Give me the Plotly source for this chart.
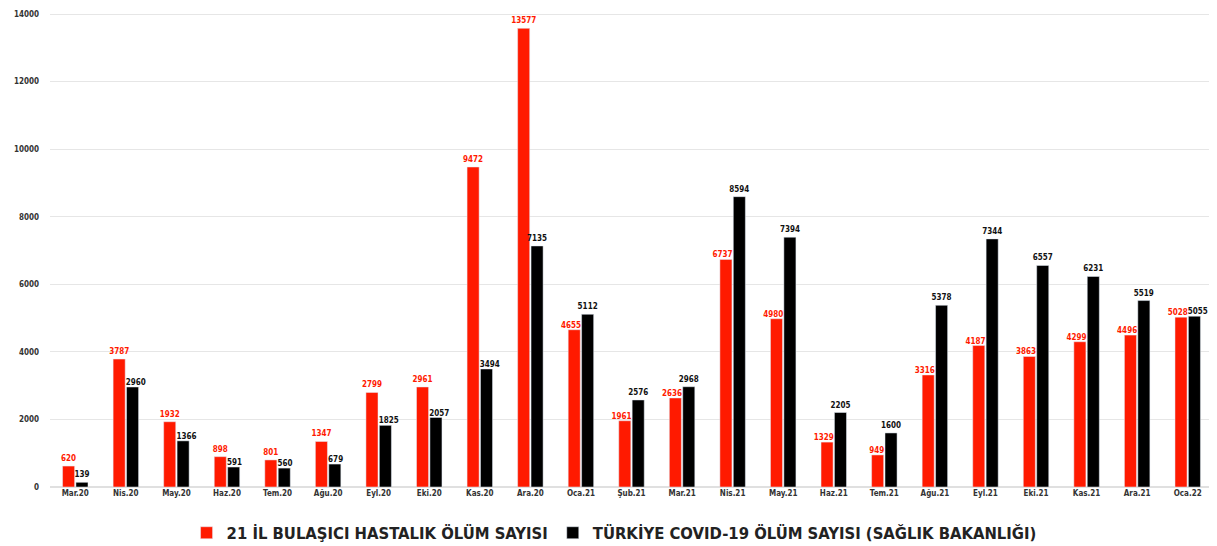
import plotly.graph_objects as go

months = ["Mar.20", "Nis.20", "May.20", "Haz.20", "Tem.20", "Ağu.20", "Eyl.20", "Eki.20",
          "Kas.20", "Ara.20", "Oca.21", "Şub.21", "Mar.21", "Nis.21", "May.21", "Haz.21",
          "Tem.21", "Ağu.21", "Eyl.21", "Eki.21", "Kas.21", "Ara.21", "Oca.22"]
il21_deaths = [620, 3787, 1932, 898, 801, 1347, 2799, 2961, 9472, 13577, 4655, 1961, 2636,
               6737, 4980, 1329, 949, 3316, 4187, 3863, 4299, 4496, 5028]
turkiye_deaths = [139, 2960, 1366, 591, 560, 679, 1825, 2057, 3494, 7135, 5112, 2576, 2968,
                  8594, 7394, 2205, 1600, 5378, 7344, 6557, 6231, 5519, 5055]
yticks = [0, 2000, 4000, 6000, 8000, 10000, 12000, 14000]

RED = "#ff1a00"
BLACK = "#000000"
FONT = "DejaVu Sans Condensed"
n = len(months)

# which labels sit beside the bar centre (drawn as text anchored at the category centre)
red_side = [i >= 10 for i in range(n)]                       # left-aligned labels
blk_side = [(1 <= i < 9) or i == n - 1 for i in range(n)]    # right-aligned labels

fig = go.Figure()
fig.add_trace(go.Bar(
    x=months, y=il21_deaths, name="21 İL BULAŞICI HASTALIK ÖLÜM SAYISI",
    marker_color=RED,
    text=["" if s else str(v) for v, s in zip(il21_deaths, red_side)],
    textposition="outside", cliponaxis=False, constraintext="none",
    textfont=dict(size=8, color=RED, family=FONT, weight="bold"),
))
fig.add_trace(go.Bar(
    x=months, y=turkiye_deaths, name="TÜRKİYE COVID-19 ÖLÜM SAYISI (SAĞLIK BAKANLIĞI)",
    marker_color=BLACK,
    text=["" if s else str(v) for v, s in zip(turkiye_deaths, blk_side)],
    textposition="outside", cliponaxis=False, constraintext="none",
    textfont=dict(size=8, color="#111111", family=FONT, weight="bold"),
))
fig.add_trace(go.Scatter(
    x=[m for m, s in zip(months, red_side) if s],
    y=[v for v, s in zip(il21_deaths, red_side) if s],
    text=[str(v) for v, s in zip(il21_deaths, red_side) if s],
    mode="text", textposition="top left", showlegend=False, hoverinfo="skip",
    cliponaxis=False,
    textfont=dict(size=8, color=RED, family=FONT, weight="bold"),
))
fig.add_trace(go.Scatter(
    x=[m for m, s in zip(months, blk_side) if s],
    y=[v for v, s in zip(turkiye_deaths, blk_side) if s],
    text=[str(v) for v, s in zip(turkiye_deaths, blk_side) if s],
    mode="text", textposition="top right", showlegend=False, hoverinfo="skip",
    cliponaxis=False,
    textfont=dict(size=8, color="#111111", family=FONT, weight="bold"),
))

# page body adds an 8px offset, so the figure is sized to the remaining area
fig.update_layout(
    width=1209, height=538,
    margin=dict(l=42, r=4, t=4, b=59, autoexpand=False),
    paper_bgcolor="white", plot_bgcolor="white",
    barmode="group", bargap=0.47, bargroupgap=0.1,
    showlegend=True,
    legend=dict(orientation="h", x=0.485, xanchor="center", y=-0.06, yanchor="top",
                font=dict(size=16.5, color="#222222", family=FONT, weight="bold"),
                traceorder="normal", itemwidth=30),
    xaxis=dict(tickfont=dict(size=8, color="#333333", family=FONT, weight="bold"),
               range=[-0.5, n - 0.5], autorange=False,
               showgrid=False, showline=False, ticks="", automargin=False),
    yaxis=dict(range=[0, 14060], autorange=False, tickvals=yticks,
               ticktext=[str(v) for v in yticks],
               tickfont=dict(size=8, color="#333333", family=FONT, weight="bold"),
               showgrid=True, gridcolor="#e6e6e6", gridwidth=1, zeroline=True,
               zerolinecolor="#e0e0e0", showline=False, ticks="", ticklabelstandoff=10,
               automargin=False),
)

fig.write_html("out.html")
